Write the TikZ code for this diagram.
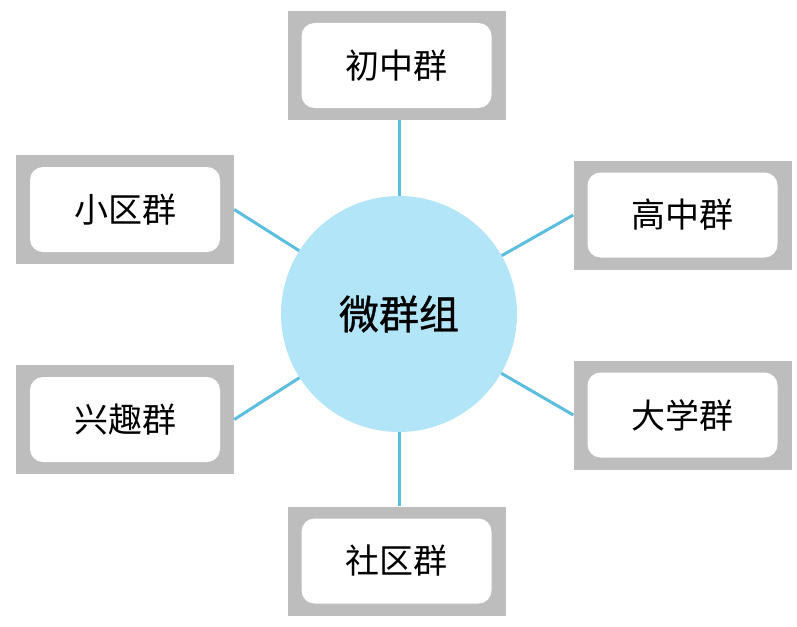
\documentclass[tikz,border=0pt]{standalone}
\usepackage{fontspec}
\newfontfamily\cjk{Noto Sans CJK SC}
\newfontfamily\cjkhub[FakeBold=0.8]{Noto Sans CJK SC}
\definecolor{framegray}{RGB}{190,189,190}
\definecolor{linkblue}{RGB}{91,190,222}
\definecolor{hubblue}{RGB}{178,229,248}
\tikzset{
  frame/.style={fill=framegray, minimum width=218pt, minimum height=109pt, inner sep=0pt},
  label/.style={fill=white, rounded corners=13pt, minimum width=190pt, minimum height=85pt,
    inner sep=0pt, font=\cjk\fontsize{34}{40}\selectfont},
  hub/.style={circle, fill=hubblue, minimum size=236pt, inner sep=0pt,
    font=\cjkhub\fontsize{40}{46}\selectfont},
  link/.style={draw=linkblue, line width=3pt}
}
\begin{document}
\begin{tikzpicture}[x=1pt,y=-1pt]
      \useasboundingbox (0,0) rectangle (797,626);
      \node[hub] (hub) at (399,314) {微群组};
      \node[frame] (chuzhong) at (396.5,65.5) {};
      \node[frame] (xiaoqu) at (125,209.5) {};
      \node[frame] (gaozhong) at (682.5,215) {};
      \node[frame] (xingqu) at (125,419.5) {};
      \node[frame] (daxue) at (682.5,415) {};
      \node[frame] (shequ) at (396.5,561) {};
      \node[label] at (chuzhong) {初中群};
      \node[label] at (xiaoqu) {小区群};
      \node[label] at (gaozhong) {高中群};
      \node[label] at (xingqu) {兴趣群};
      \node[label] at (daxue) {大学群};
      \node[label] at (shequ) {社区群};
      \begin{scope}[link]
        \draw (hub) to (hub |- chuzhong.south);
        \draw (hub) to (xiaoqu.east);
        \draw (hub) to (gaozhong.west);
        \draw (hub) to (xingqu.east);
        \draw (hub) to (daxue.west);
        \draw (hub) to (hub |- shequ.north);
      \end{scope}
    \end{tikzpicture}
\end{document}
